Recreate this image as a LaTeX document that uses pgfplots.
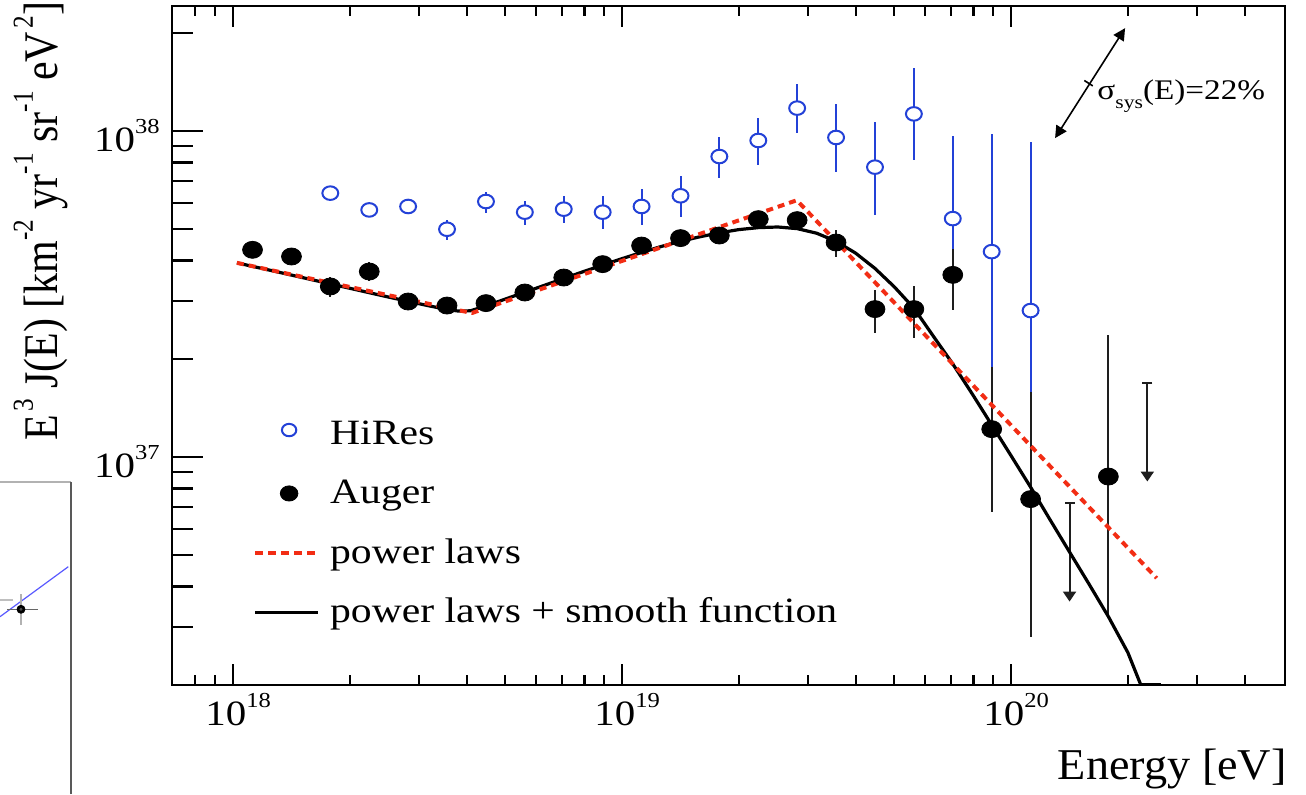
\documentclass[border=0pt]{standalone}
\usepackage{fontspec}
\setmainfont{Liberation Serif}
\usepackage{pgfplots}
\usepackage{pgfplotstable}
\pgfplotsset{compat=1.18}
\usetikzlibrary{arrows.meta}

\definecolor{hiresblue}{RGB}{35,65,215}
\definecolor{plred}{RGB}{242,45,20}
\definecolor{barblack}{RGB}{30,30,30}

% horizontally widened text and superscripts in the text font
\newcommand{\sx}[2][1.17]{\scalebox{#1}[1]{#2}}
\newcommand{\up}[1]{\raisebox{0.5em}{\scalebox{0.6}{#1}}}

% HiRes: energy, E^3 J(E), upper and lower uncertainty
\pgfplotstableread{
E        J         ep       em
1.778e18 6.44e37   0.13e37  0.13e37
2.239e18 5.72e37   0.12e37  0.12e37
2.818e18 5.86e37   0.12e37  0.12e37
3.548e18 4.99e37   0.34e37  0.36e37
4.467e18 6.07e37   0.40e37  0.48e37
5.623e18 5.63e37   0.48e37  0.48e37
7.079e18 5.75e37   0.54e37  0.54e37
8.913e18 5.63e37   0.66e37  0.62e37
1.122e19 5.86e37   0.78e37  0.71e37
1.413e19 6.32e37   0.96e37  0.86e37
1.778e19 8.34e37   1.23e37  1.18e37
2.239e19 9.34e37   1.60e37  1.47e37
2.818e19 11.74e37  2.20e37  1.90e37
3.548e19 9.54e37   2.56e37  2.04e37
4.467e19 7.74e37   2.94e37  2.22e37
5.623e19 11.27e37  4.30e37  3.16e37
7.079e19 5.38e37   4.25e37  1.03e37
8.913e19 4.26e37   5.53e37  2.37e37
1.122e20 2.81e37   6.44e37  1.23e37
}\hires

% Auger: energy, E^3 J(E), upper and lower uncertainty
\pgfplotstableread{
E        J         ep        em
1.122e18 4.315e37  0.10e37   0.10e37
1.413e18 4.116e37  0.10e37   0.10e37
1.778e18 3.331e37  0.24e37   0.23e37
2.239e18 3.702e37  0.26e37   0.25e37
2.818e18 2.995e37  0.07e37   0.07e37
3.548e18 2.911e37  0.06e37   0.06e37
4.467e18 2.961e37  0.07e37   0.07e37
5.623e18 3.192e37  0.07e37   0.07e37
7.079e18 3.548e37  0.08e37   0.08e37
8.913e18 3.900e37  0.09e37   0.09e37
1.122e19 4.447e37  0.11e37   0.11e37
1.413e19 4.687e37  0.13e37   0.13e37
1.778e19 4.774e37  0.15e37   0.15e37
2.239e19 5.359e37  0.20e37   0.20e37
2.818e19 5.322e37  0.26e37   0.26e37
3.548e19 4.544e37  0.426e37  0.428e37
4.467e19 2.839e37  0.415e37  0.433e37
5.623e19 2.839e37  0.507e37  0.526e37
7.079e19 3.616e37  0.729e37  0.791e37
8.913e19 1.216e37  0.673e37  0.541e37
1.122e20 7.419e36  8.41e36   4.608e36
1.778e20 8.70e36   14.97e36  5.424e36
}\auger

% broken power law fit
\pgfplotstableread{
E        J
1.023e18 3.936e37
4.111e18 2.761e37
2.812e19 6.124e37
2.366e20 4.246e36
}\powerlaws

% power laws with smooth suppression
\pgfplotstableread{
E        J
1.023e18 3.936e37
1.259e18 3.724e37
1.585e18 3.499e37
1.995e18 3.289e37
2.512e18 3.090e37
2.818e18 2.999e37
3.162e18 2.911e37
3.548e18 2.831e37
3.802e18 2.799e37
4.074e18 2.805e37
4.467e18 2.904e37
5.012e18 3.048e37
5.623e18 3.199e37
6.310e18 3.357e37
7.079e18 3.524e37
7.943e18 3.698e37
8.913e18 3.873e37
1.000e19 4.055e37
1.122e19 4.236e37
1.259e19 4.416e37
1.413e19 4.581e37
1.585e19 4.732e37
1.778e19 4.864e37
1.995e19 4.977e37
2.239e19 5.047e37
2.512e19 5.070e37
2.818e19 5.012e37
3.162e19 4.853e37
3.548e19 4.581e37
3.981e19 4.217e37
4.467e19 3.784e37
5.012e19 3.319e37
5.623e19 2.858e37
6.310e19 2.344e37
7.079e19 1.928e37
7.943e19 1.560e37
8.913e19 1.253e37
1.000e20 1.007e37
1.122e20 8.072e36
1.259e20 6.412e36
1.413e20 5.105e36
1.585e20 4.074e36
1.778e20 3.236e36
1.995e20 2.512e36
2.153e20 2.000e36
2.427e20 2.000e36
}\smoothfit

\begin{document}
\begin{tikzpicture}
\path[use as bounding box] (0pt,0pt) rectangle (653pt,397pt);

% neighbouring panel at the lower left edge
\begin{axis}[
  at={(0pt,0pt)}, anchor=south west, scale only axis,
  width=35.5pt, height=156pt,
  xmin=0, xmax=71, ymin=0, ymax=312,
  axis x line*=top, axis y line*=right,
  x axis line style={black!30, line width=0.7pt},
  y axis line style={black!65, line width=0.7pt},
  xtick=\empty, ytick=\empty,
]
\addplot[blue!65, line width=0.6pt] coordinates {(0,177.3) (68.3,227.3)};
\addplot[only marks, mark=none, error bars/.cd, y dir=both, y explicit, error mark=none,
  error bar style={black!30, line width=1pt}] coordinates {(21,184.7) +- (0,15.5)};
\addplot[only marks, mark=*, mark size=0.5pt, black!70, error bars/.cd, x dir=both, x explicit,
  error mark=none, error bar style={black!60, line width=0.6pt}]
  coordinates {(21,184.7) += (17.3,0) -= (14.3,0)};
\addplot[only marks, mark=none, error bars/.cd, x dir=both, x explicit, error mark=none,
  error bar style={black!25, line width=0.8pt}] coordinates {(-6,194) +- (19,0)};
\end{axis}

\begin{axis}[
  at={(86pt,54.5pt)}, anchor=south west,
  scale only axis, width=556.5pt, height=339.25pt,
  xmode=log, ymode=log,
  xmin=6.97e17, xmax=5.06e20,
  ymin=1.998e36, ymax=2.409e38,
  axis line style={line width=1.1pt},
  tick style={black, line width=1.1pt},
  tick align=inside,
  major tick length=10.5pt, minor tick length=5pt,
  xtick={1e18,1e19,1e20},
  xticklabels={{\sx[1.15]{10\up{18}}},{\sx[1.15]{10\up{19}}},{\sx[1.15]{10\up{20}}}},
  minor xtick={8e17,9e17,2e18,3e18,4e18,5e18,6e18,7e18,8e18,9e18,2e19,3e19,4e19,5e19,6e19,7e19,8e19,9e19,2e20,3e20,4e20},
  xtick pos=both, xticklabel pos=lower,
  % y axis: short ticks at the intermediate values, long ticks at the decades
  ytick={3e36,4e36,5e36,6e36,7e36,8e36,9e36,2e37,3e37,4e37,5e37,6e37,7e37,8e37,9e37,2e38},
  yticklabel={\empty},
  extra y ticks={1e37,1e38},
  extra y tick labels={{\sx[1.15]{10\up{37}}},{\sx[1.15]{10\up{38}}}},
  extra y tick style={major tick length=15.5pt},
  ytick pos=left,
  tick label style={font=\fontsize{17.8}{20}\selectfont, inner sep=0pt},
  xticklabel style={yshift=-4pt, xshift=2.5pt},
  yticklabel style={xshift=-6pt, yshift=-2.5pt},
  xlabel={\sx[1.05]{Energy [eV]}},
  xlabel style={at={(axis description cs:1.0018,-0.140)}, anchor=base east, inner sep=0pt,
    font=\fontsize{22}{24}\selectfont},
  ylabel={\scalebox{1}[1.15]{E\hspace{0.08em}\up{3} J(E) [km\up{-2} yr\up{-1} sr\up{-1} eV\hspace{0.08em}\up{2}]}},
  ylabel style={at={(axis description cs:-0.1033,0.683)}, anchor=base, inner sep=0pt,
    font=\fontsize{21}{24}\selectfont},
  legend style={at={(axis description cs:0.0728,0.391)}, anchor=north west,
    draw=none, fill=none, inner sep=0pt, outer sep=0pt,
    row sep=13.2pt, column sep=5pt,
    font=\fontsize{17.8}{20}\selectfont,
    nodes={inner sep=0pt, text height=12.5pt, text depth=4pt}},
  legend cell align=left,
]

% Auger spectrum
\addplot[forget plot, only marks, mark=*, mark size=4.25pt,
  mark options={xscale=1.17, fill=black, draw=black},
  error bars/.cd, y dir=both, y explicit, error mark=none,
  error bar style={barblack, line width=1pt}]
  table[x=E, y=J, y error plus=ep, y error minus=em] {\auger};

% Auger upper limits
\addplot[forget plot, barblack, line width=1pt, -{Triangle[length=5pt,width=6.5pt]}]
  coordinates {(1.413e20,7.21e36) (1.413e20,3.598e36)};
\addplot[forget plot, barblack, line width=1pt, -{Triangle[length=5pt,width=6.5pt]}]
  coordinates {(2.239e20,1.683e37) (2.239e20,8.40e36)};
\addplot[forget plot, only marks, mark=-, mark size=2.5pt, barblack,
  mark options={line width=1pt}]
  coordinates {(1.413e20,7.21e36) (2.239e20,1.683e37)};

% HiRes spectrum
\addplot[forget plot, only marks, mark=*, mark size=3.4pt,
  mark options={xscale=1.17, fill=white, draw=hiresblue, line width=1pt},
  error bars/.cd, y dir=both, y explicit, error mark=none,
  error bar style={hiresblue, line width=1pt}]
  table[x=E, y=J, y error plus=ep, y error minus=em] {\hires};

% fits
\addplot[forget plot, black, line width=1.6pt, line join=round] table[x=E, y=J] {\smoothfit};
\addplot[forget plot, plred, line width=2pt, dash pattern=on 3.5pt off 2.5pt, line join=round]
  table[x=E, y=J] {\powerlaws};

% systematic energy-scale uncertainty
\draw[black, line width=0.8pt, {Triangle[length=6pt,width=6pt]}-{Triangle[length=6pt,width=6pt]}]
  (axis cs:1.297e20,9.50e37) -- (axis cs:1.963e20,2.065e38);
\draw[black, line width=0.8pt] (axis cs:1.581e20,1.40e38) ++(-2.1pt,1.35pt) -- ++(4.2pt,-2.7pt);
\node[anchor=base west, inner sep=0pt, font=\fontsize{14.2}{17}\selectfont]
  at (axis cs:1.663e20,1.245e38) {\sx{σ\raisebox{-0.3em}{\scalebox{0.65}{sys}}(E)=22\%}};

% legend
\addlegendimage{legend image code/.code={
  \path[draw=none, fill=none] (0pt,0pt) -- (31.5pt,0pt);
  \draw[hiresblue, line width=1pt, fill=white] (17pt,3pt) ellipse[x radius=3.6pt, y radius=3.1pt];}}
\addlegendentry{\sx{HiRes}}
\addlegendimage{legend image code/.code={
  \path[draw=none, fill=none] (0pt,0pt) -- (31.5pt,0pt);
  \fill[black] (17pt,1pt) ellipse[x radius=4.4pt, y radius=3.8pt];}}
\addlegendentry{\sx{Auger}}
\addlegendimage{legend image code/.code={
  \draw[plred, line width=2pt, dash pattern=on 4pt off 2.5pt] (0pt,1pt) -- (31.5pt,1pt);}}
\addlegendentry{\sx{power laws}}
\addlegendimage{legend image code/.code={
  \draw[black, line width=1.4pt] (0pt,1pt) -- (31.5pt,1pt);}}
\addlegendentry{\sx{power laws + smooth function}}
\end{axis}
\end{tikzpicture}
\end{document}
